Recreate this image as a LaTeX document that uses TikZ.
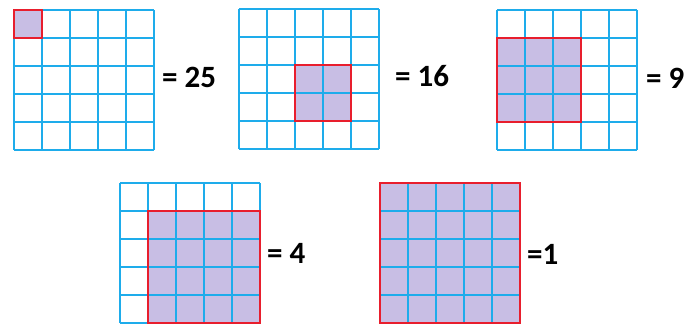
\documentclass[tikz,border=0pt]{standalone}
\usepackage{fontspec}
\setmainfont{Carlito}
\definecolor{gridblue}{RGB}{30,172,235}
\definecolor{redline}{RGB}{232,30,45}
\definecolor{fillpurple}{RGB}{200,190,228}
\tikzset{
  gridline/.style={draw=gridblue,line width=1.2pt},
  redbox/.style={draw=redline,line width=2.2pt},
  shadefill/.style={fill=fillpurple},
  eqlabel/.style={font=\bfseries\fontsize{31}{34}\selectfont,inner sep=0pt,anchor=west}
}
\begin{document}
\begin{tikzpicture}[x=1pt,y=-1pt]
\useasboundingbox (0,0) rectangle (696,324);
\foreach \gx/\gy/\ca/\ra/\cb/\rb in {14/10/0/0/1/1, 239/9/2/2/4/4, 497/10/0/1/3/4, 120/183/1/1/5/5, 380/183/0/0/5/5} {
  \fill[shadefill] ({\gx+28*\ca},{\gy+28*\ra}) rectangle ({\gx+28*\cb},{\gy+28*\rb});
  \foreach \i in {0,...,5} {
    \draw[gridline] ({\gx+28*\i},\gy) -- ({\gx+28*\i},{\gy+140});
    \draw[gridline] (\gx,{\gy+28*\i}) -- ({\gx+140},{\gy+28*\i});
  }
  \draw[redbox] ({\gx+28*\ca},{\gy+28*\ra}) rectangle ({\gx+28*\cb},{\gy+28*\rb});
}
\node[eqlabel] (lab25) at (162,77) {= 25};
\node[eqlabel] (lab16) at (395,76) {= 16};
\node[eqlabel] (lab9) at (646,78) {= 9};
\node[eqlabel] (lab4) at (267,253) {= 4};
\node[eqlabel] (lab1) at (527,254) {=1};
\end{tikzpicture}
\end{document}
